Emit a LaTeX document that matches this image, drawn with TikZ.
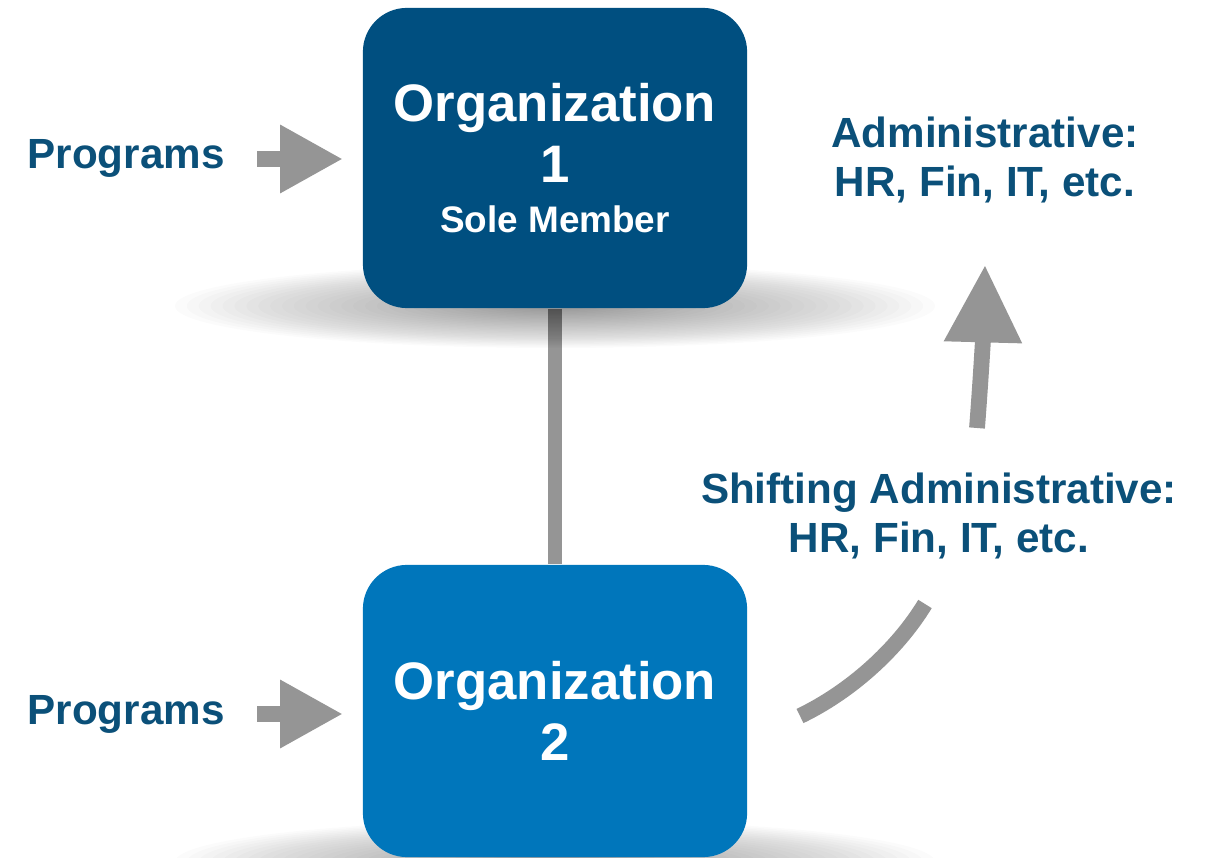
\documentclass[tikz,border=0pt]{standalone}
\usepackage{fontspec}
\setmainfont{Liberation Sans}
\usetikzlibrary{arrows.meta,backgrounds}
\definecolor{orgA}{HTML}{004F80}
\definecolor{orgB}{HTML}{0076BB}
\definecolor{txt}{HTML}{0B5079}
\definecolor{arr}{HTML}{959595}
\begin{document}
\begin{tikzpicture}[x=0.01cm,y=-0.01cm,
  orgbox/.style={rounded corners=12.5pt, minimum width=3.84cm, text=white,
    align=center, inner sep=0pt, font=\fontsize{15}{17.4}\selectfont\bfseries},
  lbl/.style={text=txt, align=center, inner sep=0pt, font=\fontsize{12}{13.7}\selectfont\bfseries},
  blockarrow/.style={draw=arr, line width=4.8pt, -{Triangle[width=18.2pt,length=17.9pt]}, arr},
  curvearrow/.style={draw=arr, line width=4.5pt},
  link/.style={draw=arr, line width=4pt},
  shadowring/.style={fill=black, fill opacity=0.014}]
\useasboundingbox (0,0) rectangle (1215,858);
\clip (0,0) rectangle (1215,858);

% organisations
\node[orgbox, fill=orgA, minimum height=3.0cm] (org1) at (555,158)
  {Organization\\1\\[-3pt]{\fontsize{10.5}{12}\selectfont Sole Member}};
\node[orgbox, fill=orgB, minimum height=2.92cm] (org2) at (555,711)
  {Organization\\2};

% labels
\node[lbl] (prog1) at (126,158) {Programs};
\node[lbl] (prog2) at (126,714) {Programs};
\node[lbl] (admin) at (985,160) {Administrative:\\HR, Fin, IT, etc.};
\node[lbl] (shift) at (939,516) {Shifting Administrative:\\HR, Fin, IT, etc.};

% connector coordinates
\coordinate (p1s) at (257,159);
\coordinate (p1e) at (343,159);
\coordinate (p2s) at (257,714);
\coordinate (p2e) at (343,714);
\coordinate (cA) at (800,716);
\coordinate (cB) at (925,604);
\coordinate (cC) at (977,428);
\coordinate (cD) at (985,265);

\begin{scope}[on background layer]
  \draw[link] (org1.south) -- (org2.north);
  \foreach \i in {1,...,32} {
    \fill[shadowring] (555,306) ellipse ({380*\i/32} and {42*\i/32});
    \fill[shadowring] (555,862) ellipse ({380*\i/32} and {42*\i/32});
  }
\end{scope}

\draw[blockarrow] (p1s) -- (p1e);
\draw[blockarrow] (p2s) -- (p2e);

\draw[curvearrow] (cA) .. controls (850,692) and (897,650) .. (cB);
\draw[curvearrow, -{Triangle[width=21pt,length=22pt]}, fill=arr]
  (cC) .. controls (980,390) and (983,340) .. (cD);
\end{tikzpicture}
\end{document}
